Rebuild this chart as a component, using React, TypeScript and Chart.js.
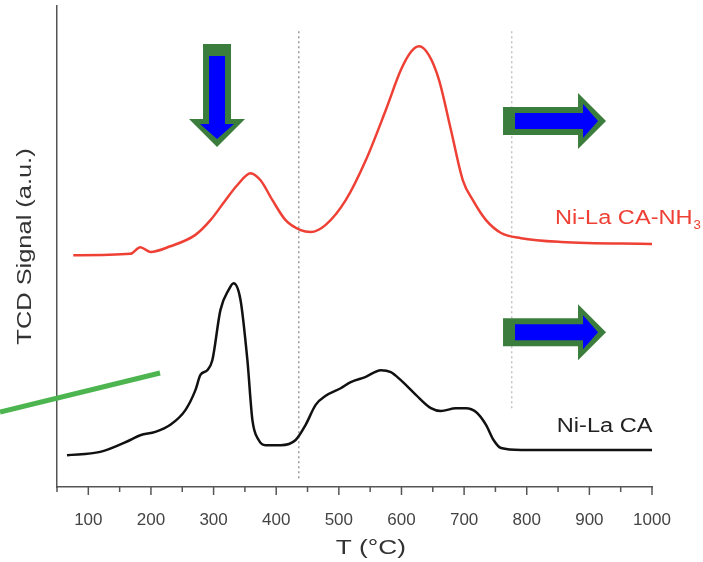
import React, { useEffect, useRef } from "react";
import { Chart, registerables } from "chart.js";

Chart.register(...registerables);

// Ni-La CA (black) — temperature (°C) and TCD signal (a.u.)
const caT = [66, 119, 167, 183, 207, 231, 255, 271, 279, 290, 298, 311, 324, 332, 343, 354, 362, 372, 383, 407, 431, 447, 463, 479, 503, 519, 543, 567, 583, 599, 623, 647, 663, 687, 703, 719, 735, 747, 759, 791, 1000];
const caSignal = [6.7, 7.4, 9.9, 10.9, 11.6, 13.1, 16.2, 20.4, 23.6, 24.6, 26.7, 37.3, 41.5, 42.9, 39.4, 26.7, 14.1, 9.9, 8.8, 8.8, 9.9, 13.1, 17.3, 19.2, 20.8, 22.1, 23.2, 24.6, 24.2, 22.5, 19.4, 16.6, 16.0, 16.6, 16.6, 15.8, 13.1, 9.9, 8.2, 7.8, 7.8];

// Ni-La CA-NH3 (red)
const nh3T = [76, 167, 183, 199, 231, 271, 295, 319, 338, 359, 375, 394, 415, 439, 455, 479, 511, 543, 575, 599, 615, 628, 644, 660, 679, 698, 714, 735, 759, 791, 855, 1000];
const nh3Signal = [48.8, 49.1, 50.5, 49.5, 50.7, 53.1, 56.2, 60.4, 63.6, 66.1, 64.6, 60.4, 56.2, 54.1, 53.7, 55.2, 60.4, 68.8, 79.4, 87.8, 91.6, 92.8, 90.9, 85.7, 75.2, 64.6, 60.4, 56.2, 53.5, 52.4, 51.6, 51.2];

const xTickValues = [100, 200, 300, 400, 500, 600, 700, 800, 900, 1000];
const minorTickValues = [50, 150, 250, 350, 450, 550, 650, 750, 850, 950];
const dottedLineT = [436, 776];

const seriesLabels = ["Ni-La CA", "Ni-La CA-NH"];
const xTitle = "T (°C)";
const yTitle = "TCD Signal (a.u.)";

const FONT = '"Liberation Sans", Arial, sans-serif';

function fillStretched(ctx: CanvasRenderingContext2D, text: string, x: number, y: number, sx: number) {
  ctx.save();
  ctx.translate(x, y);
  ctx.scale(sx, 1);
  ctx.fillText(text, 0, 0);
  ctx.restore();
}

function drawArrow(ctx: CanvasRenderingContext2D, tx: number, ty: number, dir: "down" | "right") {
  const L = 103;
  const outer: [number, number][] = [
    [0, -14], [75, -14], [75, -28], [L, 0], [75, 28], [75, 14], [0, 14],
  ];
  const inner: [number, number][] = [
    [12, -8], [80, -8], [80, -17], [95, 0], [80, 17], [80, 8], [12, 8],
  ];
  const map = (p: [number, number]) => {
    const u = p[0] - L;
    if (dir === "down") return [tx + p[1], ty + u];
    return [tx + u, ty + p[1]];
  };
  const path = (pts: [number, number][], color: string) => {
    ctx.beginPath();
    pts.forEach((p, i) => {
      const [x, y] = map(p);
      if (i === 0) ctx.moveTo(x, y);
      else ctx.lineTo(x, y);
    });
    ctx.closePath();
    ctx.fillStyle = color;
    ctx.fill();
  };
  path(outer, "#3a7d3c");
  path(inner, "#0000ff");
}

const annotationPlugin = {
  id: "annotations",
  beforeDatasetsDraw(chart: any) {
    const { ctx, scales } = chart;
    const xs = scales.x;
    const ys = scales.y;
    ctx.save();
    ctx.strokeStyle = "#9a9a9a";
    ctx.lineWidth = 1.5;
    ctx.setLineDash([2, 3]);
    dottedLineT.forEach((t, i) => {
      const x = xs.getPixelForValue(t);
      ctx.globalAlpha = i === 0 ? 1 : 0.6;
      ctx.beginPath();
      ctx.moveTo(x, ys.getPixelForValue(96));
      ctx.lineTo(x, ys.getPixelForValue(i === 0 ? 1.5 : 16));
      ctx.stroke();
    });
    ctx.restore();
  },
  afterDraw(chart: any) {
    const { ctx, scales, chartArea } = chart;
    const xs = scales.x;
    const ys = scales.y;
    ctx.save();
    ctx.strokeStyle = "#555";
    ctx.lineWidth = 1.5;
    xTickValues.forEach((v) => {
      const x = xs.getPixelForValue(v);
      ctx.beginPath();
      ctx.moveTo(x, chartArea.bottom);
      ctx.lineTo(x, chartArea.bottom + 8);
      ctx.stroke();
    });
    minorTickValues.forEach((v) => {
      const x = xs.getPixelForValue(v);
      ctx.beginPath();
      ctx.moveTo(x, chartArea.bottom);
      ctx.lineTo(x, chartArea.bottom + 5);
      ctx.stroke();
    });

    // axis titles
    ctx.fillStyle = "#333";
    ctx.font = `21px ${FONT}`;
    ctx.textAlign = "center";
    ctx.textBaseline = "middle";
    fillStretched(ctx, xTitle, xs.getPixelForValue(551), 548, 1.25);
    ctx.save();
    ctx.translate(25, (chartArea.top + chartArea.bottom) / 2);
    ctx.rotate(-Math.PI / 2);
    fillStretched(ctx, yTitle, 0, 0, 1.21);
    ctx.restore();

    // series labels
    ctx.textAlign = "left";
    ctx.textBaseline = "alphabetic";
    ctx.font = `20px ${FONT}`;
    ctx.fillStyle = "#222";
    fillStretched(ctx, seriesLabels[0], xs.getPixelForValue(848), ys.getPixelForValue(11.6), 1.18);
    ctx.fillStyle = "#ee4035";
    const lx = xs.getPixelForValue(845);
    const ly = ys.getPixelForValue(55.4);
    fillStretched(ctx, seriesLabels[1], lx, ly, 1.18);
    const w = ctx.measureText(seriesLabels[1]).width * 1.18;
    ctx.font = `12px ${FONT}`;
    fillStretched(ctx, "3", lx + w + 1, ly + 5, 1.1);

    // arrows
    drawArrow(ctx, xs.getPixelForValue(305.5), ys.getPixelForValue(71.6), "down");
    drawArrow(ctx, xs.getPixelForValue(926.6), ys.getPixelForValue(77.1), "right");
    drawArrow(ctx, xs.getPixelForValue(926.6), ys.getPixelForValue(32.6), "right");

    // green pointer line
    ctx.strokeStyle = "#4cb54f";
    ctx.lineWidth = 5;
    ctx.lineCap = "butt";
    ctx.beginPath();
    ctx.moveTo(xs.getPixelForValue(-41), ys.getPixelForValue(15.8));
    ctx.lineTo(xs.getPixelForValue(214.5), ys.getPixelForValue(24));
    ctx.stroke();
    ctx.restore();
  },
};

export default function App() {
  const ref = useRef<HTMLCanvasElement | null>(null);
  useEffect(() => {
    document.body.style.margin = "0";
    const canvas = ref.current;
    if (!canvas) return;
    const chart = new Chart(canvas, {
      type: "line",
      data: {
        datasets: [
          {
            label: seriesLabels[0],
            data: caT.map((t, i) => ({ x: t, y: caSignal[i] })),
            borderColor: "#111",
            borderWidth: 2.5,
            pointRadius: 0,
            fill: false,
            cubicInterpolationMode: "monotone",
          },
          {
            label: seriesLabels[1],
            data: nh3T.map((t, i) => ({ x: t, y: nh3Signal[i] })),
            borderColor: "#ee4035",
            borderWidth: 2.5,
            pointRadius: 0,
            fill: false,
            cubicInterpolationMode: "monotone",
          },
        ],
      },
      options: {
        responsive: false,
        maintainAspectRatio: false,
        animation: false,
        layout: { padding: { top: 6, right: 51, left: 0, bottom: 0 } },
        plugins: { legend: { display: false }, tooltip: { enabled: false } },
        scales: {
          x: {
            type: "linear",
            min: 50,
            max: 1000,
            grid: { display: false },
            border: { display: true, color: "#555", width: 1.5 },
            afterBuildTicks: (s: any) => {
              s.ticks = xTickValues.map((v) => ({ value: v }));
            },
            ticks: {
              padding: 15,
              color: "#444",
              autoSkip: false,
              maxRotation: 0,
              font: { size: 17, family: FONT },
              callback: (v: any) => String(v),
            },
            afterFit: (s: any) => {
              s.height = 75;
            },
          },
          y: {
            min: 0,
            max: 101.3,
            grid: { display: false },
            ticks: { display: false },
            border: { display: true, color: "#555", width: 1.5 },
            afterFit: (s: any) => {
              s.width = 57;
            },
          },
        },
      },
      plugins: [annotationPlugin],
    });
    return () => chart.destroy();
  }, []);
  return (
    <div style={{ width: 703, height: 562 }}>
      <canvas ref={ref} width={703} height={562} style={{ display: "block" }} />
    </div>
  );
}
